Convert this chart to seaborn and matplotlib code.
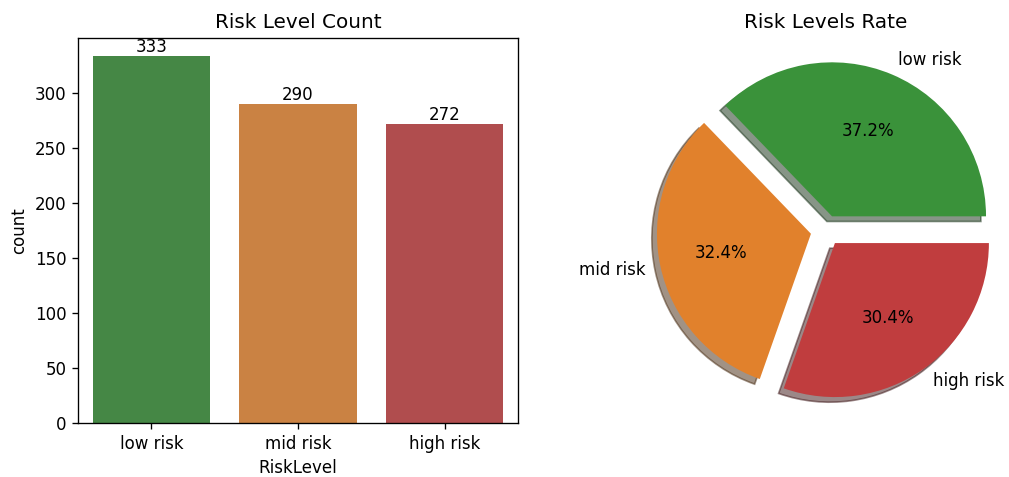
import matplotlib
matplotlib.use("Agg")
import matplotlib.pyplot as plt
import seaborn as sns
import pandas as pd

categories = ["low risk", "mid risk", "high risk"]
counts = [333, 290, 272]
colors = ["#3a923a", "#e1812c", "#c03d3e"]

df = pd.DataFrame({"RiskLevel": categories, "count": counts})

DPI = 120
fig = plt.figure(figsize=(1009 / DPI, 477 / DPI), dpi=DPI)
ax1 = fig.add_axes([78 / 1009, 1 - 423 / 477, 440 / 1009, 385 / 477])
ax2 = fig.add_axes([(826 - 220) / 1009, 1 - 423 / 477, 440 / 1009, 385 / 477])

sns.barplot(data=df, x="RiskLevel", y="count", hue="RiskLevel",
            palette=colors, order=categories, legend=False, ax=ax1)
for c in ax1.containers:
    ax1.bar_label(c)
ax1.set_title("Risk Level Count")

ax2.pie(counts, labels=categories, colors=colors, autopct="%1.1f%%",
        explode=[0.1, 0.1, 0.1], shadow=True)
ax2.set_title("Risk Levels Rate")

fig.savefig("out.png", dpi=DPI)
